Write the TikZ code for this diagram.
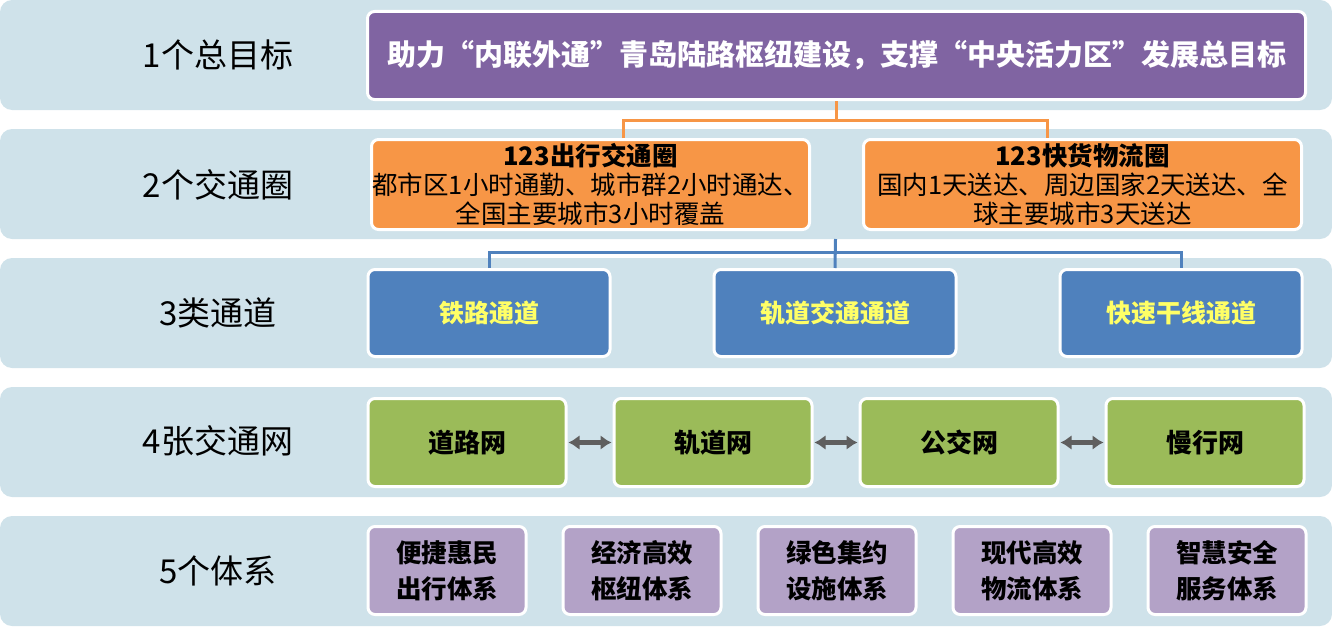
\documentclass[tikz,border=0pt]{standalone}
\usepackage{fontspec}
\setmainfont{Noto Sans CJK SC}
\usepackage{tikz}
\usetikzlibrary{arrows.meta, positioning}
\definecolor{bandblue}{HTML}{CFE2EA}
\definecolor{goalpurple}{HTML}{8064A2}
\definecolor{ringorange}{HTML}{F79646}
\definecolor{chanblue}{HTML}{4F81BD}
\definecolor{chanyellow}{HTML}{FFFF66}
\definecolor{netgreen}{HTML}{9BBB59}
\definecolor{syspurple}{HTML}{B3A2C7}
\definecolor{arrgray}{HTML}{5F5F5F}

\begin{document}
\begin{tikzpicture}[x=1pt, y=-1pt, node distance=45pt,
  band/.style={fill=bandblue, rounded corners=12pt},
  rowlabel/.style={font=\fontsize{33}{36}\selectfont},
  box/.style={rectangle, rounded corners=7pt, draw=white, line width=3pt,
              align=center, inner sep=0pt},
  goalbox/.style={box, fill=goalpurple, text=white, minimum width=938pt,
                  minimum height=88pt, font=\bfseries\fontsize{29}{32}\selectfont},
  ringbox/.style={box, fill=ringorange, minimum width=438pt, minimum height=90pt,
                  font=\fontsize{25.5}{29}\selectfont},
  chanbox/.style={box, fill=chanblue, text=chanyellow, minimum width=242pt,
                  minimum height=87pt, font=\bfseries\fontsize{25}{28}\selectfont},
  netbox/.style={box, fill=netgreen, minimum width=198pt, minimum height=88pt,
                 font=\bfseries\fontsize{26}{28}\selectfont},
  sysbox/.style={box, fill=syspurple, minimum width=158pt, minimum height=88pt,
                 font=\bfseries\fontsize{25.5}{36}\selectfont},
  ringline/.style={ringorange, line width=3pt},
  chanline/.style={chanblue, line width=3pt},
  netarr/.style={{Latex[length=11pt,width=15pt]}-{Latex[length=11pt,width=15pt]},
                 arrgray, line width=4.5pt, shorten <=1pt, shorten >=1pt}]
  \useasboundingbox (0,0) rectangle (1332,626);
  \foreach \y in {0,129,258,387,516}
    \fill[band] (0,\y) rectangle ++(1332,110);

  \node[rowlabel] (lab1) at (218,55) {1个总目标};
  \node[rowlabel] (lab2) at (218,185) {2个交通圈};
  \node[rowlabel] (lab3) at (218,313) {3类通道};
  \node[rowlabel] (lab4) at (218,441) {4张交通网};
  \node[rowlabel] (lab5) at (218,571) {5个体系};

  \node[goalbox] (goal) at (836.5,55.5)
       {助力“内联外通”青岛陆路枢纽建设，支撑“中央活力区”发展总目标};

  \node[ringbox] (ring1) at (590.5,184.5)
       {{\bfseries 123出行交通圈}\\都市区1小时通勤、城市群2小时通达、\\全国主要城市3小时覆盖};
  \node[ringbox] (ring2) at (1082.5,184.5)
       {{\bfseries 123快货物流圈}\\国内1天送达、周边国家2天送达、全\\球主要城市3天送达};

  \node[chanbox] (chan1) at (489,313) {铁路通道};
  \node[chanbox, right=101pt of chan1] (chan2) {轨道交通通道};
  \node[chanbox, right=101pt of chan2] (chan3) {快速干线通道};

  \node[netbox] (net1) at (467,442.5) {道路网};
  \node[netbox, right=of net1] (net2) {轨道网};
  \node[netbox, right=of net2] (net3) {公交网};
  \node[netbox, right=of net3] (net4) {慢行网};

  \node[sysbox] (sys1) at (447,570.5) {便捷惠民\\出行体系};
  \node[sysbox, right=34pt of sys1] (sys2) {经济高效\\枢纽体系};
  \node[sysbox, right=34pt of sys2] (sys3) {绿色集约\\设施体系};
  \node[sysbox, right=34pt of sys3] (sys4) {现代高效\\物流体系};
  \node[sysbox, right=34pt of sys4] (sys5) {智慧安全\\服务体系};

  \draw[ringline] (goal.south) -- ++(0,19) coordinate (gsplit);
  \draw[ringline] ([xshift=32.5pt]ring1.north) |- (gsplit) -| ([xshift=-35.5pt]ring2.north);

  \coordinate (csplit) at (835.5,239);
  \draw[chanline] (csplit) -- (chan2.north);
  \draw[chanline] (chan1.north) -- ++(0,-16) -| (chan3.north);

  \draw[netarr] (net1) -- (net2);
  \draw[netarr] (net2) -- (net3);
  \draw[netarr] (net3) -- (net4);
\end{tikzpicture}
\end{document}
